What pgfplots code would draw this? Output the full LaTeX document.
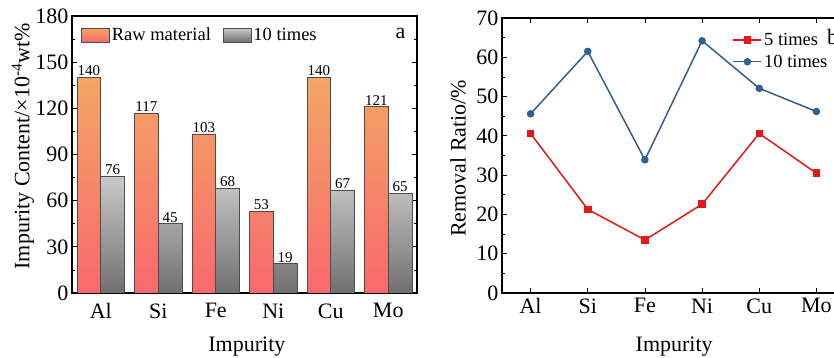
\documentclass[border=0pt]{standalone}
\usepackage{pgfplots}
\pgfplotsset{compat=1.18}
\usepackage{fontspec}
\setmainfont{Liberation Serif}
\definecolor{orTop}{RGB}{242,166,100}
\definecolor{orBot}{RGB}{250,104,110}
\definecolor{grTop}{RGB}{202,202,202}
\definecolor{grBot}{RGB}{112,112,112}
\definecolor{redL}{RGB}{228,24,24}
\definecolor{blueL}{RGB}{48,95,145}
\begin{document}
\begin{tikzpicture}
\path[use as bounding box, clip] (0bp,0bp) rectangle (834bp,358bp);
% ---------------- panel a ----------------
\begin{axis}[
  at={(72bp,65bp)}, anchor=south west,
  scale only axis, width=345bp, height=277bp,
  xmin=-0.5, xmax=5.5, ymin=0, ymax=180,
  xtick={0,1,2,3,4,5}, xticklabels={Al,Si,Fe,Ni,Cu,Mo},
  major x tick style={draw=none},
  ytick={0,30,...,180}, minor y tick num=1,
  tick align=inside, major tick length=5bp, minor tick length=3bp,
  tick style={black, line width=0.8pt},
  axis line style={line width=1.2pt},
  /pgf/number format/assume math mode=true,
  tick label style={font=\fontsize{22bp}{24bp}\selectfont},
  label style={font=\fontsize{22bp}{24bp}\selectfont},
  xlabel={Impurity}, ylabel={Impurity Content/×10\textsuperscript{-4}wt\%},
  xlabel style={at={(axis description cs:0.507,0)}, anchor=north, yshift=-40bp},
  ylabel style={at={(axis description cs:-0.142,0.53)}, anchor=center},
  xticklabel style={yshift=-2bp},
  ybar=0pt, bar width=0.41,
  nodes near coords,
  every node near coord/.append style={font=\fontsize{15bp}{16bp}\selectfont, inner sep=1.2bp, black},
  legend columns=2,
  legend style={draw=none, fill=none, at={(axis description cs:0.026,0.931)}, anchor=west,
    font=\fontsize{18.5bp}{20bp}\selectfont, inner sep=0pt,
    /tikz/every even column/.append style={column sep=10bp}},
  legend image code/.code={\path[#1] (0bp,-7bp) rectangle (28bp,7bp);},
]
\addplot[bar shift=-0.205, draw=black!70, line width=0.6pt, top color=orTop, bottom color=orBot]
  coordinates {(0,140) (1,117) (2,103) (3,53) (4,140) (5,121)};
\addlegendentry{Raw material}
\addplot[bar shift=0.205, draw=black!70, line width=0.6pt, top color=grTop, bottom color=grBot]
  coordinates {(0,76) (1,45) (2,68) (3,19) (4,67) (5,65)};
\addlegendentry{10 times}
\node[font=\fontsize{22bp}{24bp}\selectfont, anchor=center] at (axis description cs:0.952,0.936) {a};
\end{axis}
% ---------------- panel b ----------------
\begin{axis}[
  at={(502bp,65bp)}, anchor=south west,
  scale only axis, width=343bp, height=275bp,
  xmin=-0.5, xmax=5.5, ymin=0, ymax=70,
  clip=false,
  xtick={0,1,2,3,4,5}, xticklabels={Al,Si,Fe,Ni,Cu,Mo},
  ytick={0,10,...,70}, minor y tick num=1,
  tick align=inside, major tick length=5bp, minor tick length=3bp,
  tick style={black, line width=0.8pt},
  axis line style={line width=1.2pt},
  /pgf/number format/assume math mode=true,
  tick label style={font=\fontsize{22bp}{24bp}\selectfont},
  label style={font=\fontsize{22bp}{24bp}\selectfont},
  xlabel={Impurity}, ylabel={Removal Ratio/\%},
  xlabel style={at={(axis description cs:0.502,0)}, anchor=north, yshift=-40bp},
  ylabel style={at={(axis description cs:-0.128,0.49)}, anchor=center},
  xticklabel style={yshift=-2bp},
  legend cell align=left,
  legend style={draw=none, fill=none, at={(axis description cs:0.672,0.953)}, anchor=north west,
    font=\fontsize{18.5bp}{20bp}\selectfont, inner sep=0pt, row sep=4bp},
  legend image code/.code={\draw[#1, mark repeat=2, mark phase=2] plot coordinates {(0bp,0bp) (14bp,0bp) (28bp,0bp)};},
]
\addplot[redL, line width=1.5pt, mark=square*, mark size=3bp]
  coordinates {(0,40.6) (1,21.3) (2,13.5) (3,22.6) (4,40.6) (5,30.5)};
\addlegendentry{5 times}
\addplot[blueL, line width=1.5pt, mark=*, mark size=3bp]
  coordinates {(0,45.6) (1,61.5) (2,33.9) (3,64.2) (4,52.1) (5,46.2)};
\addlegendentry{10 times}
\node[font=\fontsize{22bp}{24bp}\selectfont, anchor=base west, inner sep=0pt] at (axis cs:5.185,63.3) {b};
\end{axis}
\end{tikzpicture}
\end{document}
